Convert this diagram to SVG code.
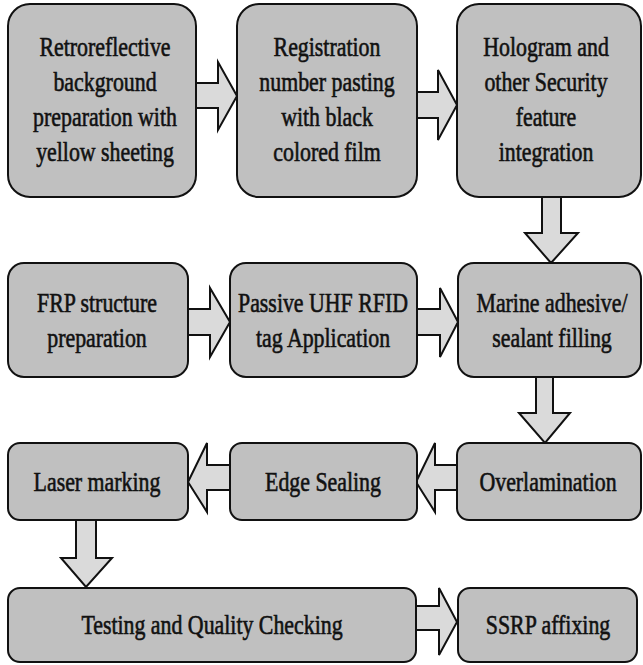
<svg xmlns="http://www.w3.org/2000/svg" width="643" height="665" viewBox="0 0 643 665">
<style>
.box{fill:#c0c0c0;stroke:#111;stroke-width:2}
.arr{fill:#dadada;stroke:#111;stroke-width:2;stroke-linejoin:miter}
.t{font-family:"Liberation Serif","Times New Roman",serif;font-size:27px;fill:#111;stroke:#111;stroke-width:0.6;text-anchor:middle}
</style>
<rect width="643" height="665" fill="#fff"/>
<g id="connectors">
<polygon class="arr" points="196,83 218,83 218,62 237,96 218,130 218,108 196,108"/>
<polygon class="arr" points="417,92 438,92 438,70 457,105 438,140 438,118 417,118"/>
<polygon class="arr" points="542,197 561,197 561,233 578,233 551,263 525,233 542,233"/>
<polygon class="arr" points="188,309 210,309 210,288 230,322 210,357 210,335 188,335"/>
<polygon class="arr" points="417,309 440,309 440,288 458,322 440,357 440,335 417,335"/>
<polygon class="arr" points="536,377 553,377 553,413 570,413 545,443 519,413 536,413"/>
<polygon class="arr" points="457,465 435,465 435,443 416,482 435,512 435,490 457,490"/>
<polygon class="arr" points="230,465 207,465 207,443 188,482 207,512 207,490 230,490"/>
<polygon class="arr" points="76,520 96,520 96,558 112,558 86,587 61,558 76,558"/>
<polygon class="arr" points="416,606 439,606 439,588 457,622 439,655 439,630 416,630"/>
</g>
<g id="n1"><rect class="box" x="8" y="4" width="188" height="193" rx="22"/>
<text class="t" transform="matrix(0.81,0,0,1,105,0)"><tspan x="0" y="56">Retroreflective</tspan><tspan x="0" y="91">background</tspan><tspan x="0" y="126">preparation with</tspan><tspan x="0" y="161">yellow sheeting</tspan></text></g>
<g id="n2"><rect class="box" x="237" y="4" width="180" height="193" rx="22"/>
<text class="t" transform="matrix(0.81,0,0,1,327,0)"><tspan x="0" y="56">Registration</tspan><tspan x="0" y="91">number pasting</tspan><tspan x="0" y="126">with black</tspan><tspan x="0" y="161">colored film</tspan></text></g>
<g id="n3"><rect class="box" x="457" y="4" width="184" height="193" rx="22"/>
<text class="t" transform="matrix(0.81,0,0,1,546,0)"><tspan x="0" y="56">Hologram and</tspan><tspan x="0" y="91">other Security</tspan><tspan x="0" y="126">feature</tspan><tspan x="0" y="161">integration</tspan></text></g>
<g id="n4"><rect class="box" x="8" y="263" width="180" height="114" rx="16"/>
<text class="t" transform="matrix(0.81,0,0,1,97,0)"><tspan x="0" y="312">FRP structure</tspan><tspan x="0" y="347">preparation</tspan></text></g>
<g id="n5"><rect class="box" x="230" y="263" width="187" height="114" rx="16"/>
<text class="t" transform="matrix(0.81,0,0,1,323,0)"><tspan x="0" y="312">Passive UHF RFID</tspan><tspan x="0" y="347">tag Application</tspan></text></g>
<g id="n6"><rect class="box" x="458" y="263" width="183" height="114" rx="16"/>
<text class="t" transform="matrix(0.81,0,0,1,552,0)"><tspan x="0" y="312">Marine adhesive/</tspan><tspan x="0" y="347">sealant filling</tspan></text></g>
<g id="n7"><rect class="box" x="8" y="443" width="180" height="77" rx="12"/>
<text class="t" transform="matrix(0.81,0,0,1,97,0)" x="0" y="491">Laser marking</text></g>
<g id="n8"><rect class="box" x="230" y="443" width="187" height="77" rx="12"/>
<text class="t" transform="matrix(0.81,0,0,1,323,0)" x="0" y="491">Edge Sealing</text></g>
<g id="n9"><rect class="box" x="457" y="443" width="184" height="77" rx="12"/>
<text class="t" transform="matrix(0.81,0,0,1,548,0)" x="0" y="491">Overlamination</text></g>
<g id="n10"><rect class="box" x="8" y="588" width="408" height="74" rx="12"/>
<text class="t" transform="matrix(0.81,0,0,1,212,0)" x="0" y="634">Testing and Quality Checking</text></g>
<g id="n11"><rect class="box" x="458" y="588" width="179" height="74" rx="12"/>
<text class="t" transform="matrix(0.81,0,0,1,548,0)" x="0" y="634">SSRP affixing</text></g>
</svg>
